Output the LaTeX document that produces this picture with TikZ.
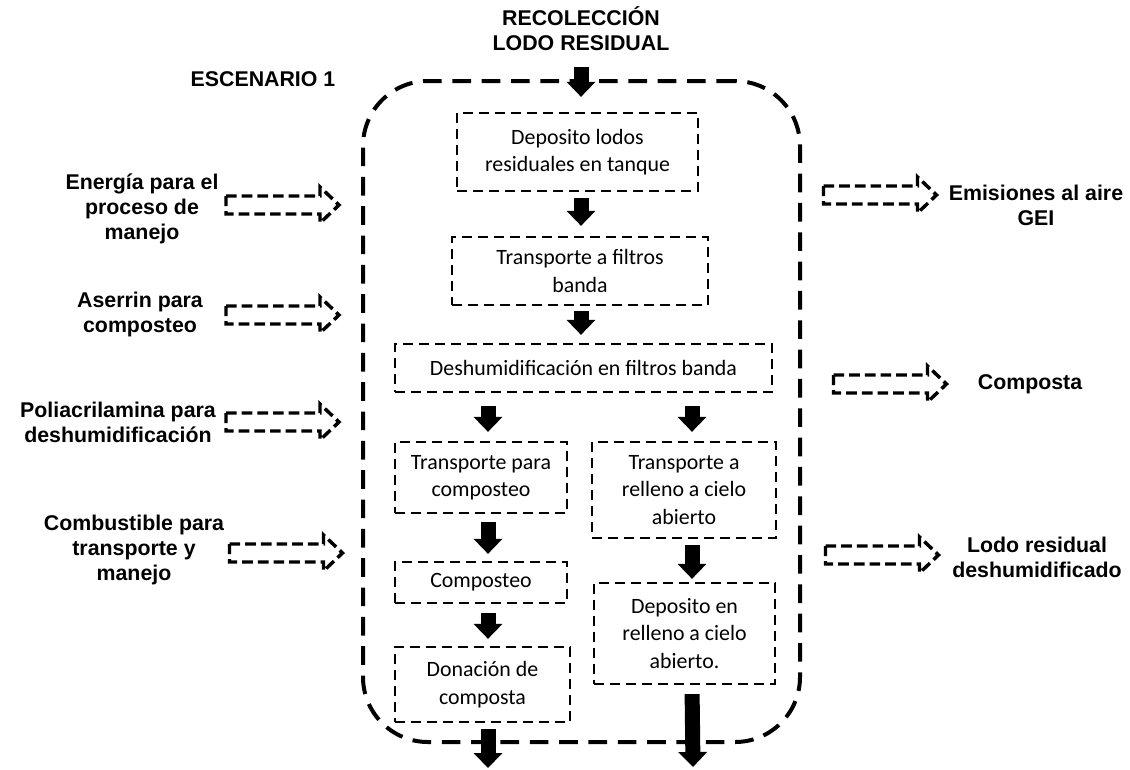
\documentclass[tikz,border=0pt]{standalone}
\usepackage{fontspec}
\setmainfont{Carlito}
\newfontfamily\labelfont{Liberation Sans}
\usetikzlibrary{arrows.meta}

\begin{document}
\begin{tikzpicture}[x=0.75pt,y=-0.75pt,
  stage/.style={draw, dash pattern=on 7.5pt off 4.5pt, line width=1.7pt,
    inner sep=0pt, align=center, font=\fontsize{16.4}{20.5}\selectfont},
  flow/.style={line width=11.25pt, -{Triangle[width=21pt,length=11.25pt]}},
  lbl/.style={font=\labelfont\bfseries\fontsize{16}{18.75}\selectfont, align=center},
  ioarrow/.pic={
    \draw[dash pattern=on 8pt off 3.75pt, line width=2.6pt, line join=miter]
      (-56.5,-9) -- (37.5,-9) -- (37.5,-18) -- (56.5,0) -- (37.5,18)
      -- (37.5,9) -- (-56.5,9) -- cycle;
    \coordinate (-tip) at (56.5,0);
  }
]
\useasboundingbox (0,0) rectangle (1130,769);

% scenario boundary
\node[draw, rounded corners=48.75pt, dash pattern=on 14pt off 8pt, line width=3pt,
  minimum width=327.75pt, minimum height=495.75pt] (frame) at (581.5,411.5) {};

% headings
\node[lbl] (title) at (581,29) {RECOLECCIÓN\\LODO RESIDUAL};
\node[lbl] (scen) at (263,79) {ESCENARIO 1};

% process stages
\node[stage, minimum width=180.75pt, minimum height=58.5pt] (b1) at (577.5,152)
  {Deposito lodos\\residuales en tanque};
\node[stage, minimum width=192pt, minimum height=51pt] (b2) at (580,271)
  {Transporte a filtros\\banda};
\node[stage, minimum width=282.75pt, minimum height=36pt] (b3) at (583.5,368)
  {Deshumidificación en filtros banda};
\node[stage, minimum width=129pt, minimum height=53.25pt] (b4) at (481,477.5)
  {Transporte para\\composteo};
\node[stage, minimum width=138pt, minimum height=72pt] (b5) at (684,490)
  {Transporte a\\relleno a cielo\\abierto};
\node[stage, minimum width=129pt, minimum height=30.75pt] (b6) at (481,582.5)
  {Composteo};
\node[stage, minimum width=131.25pt, minimum height=56.25pt] (b7) at (482.5,684.5)
  {Donación de\\composta};
\node[stage, minimum width=135.75pt, minimum height=75.75pt] (b8) at (684.5,633.5)
  {Deposito en\\relleno a cielo\\abierto.};

% flow columns and free ends
\coordinate (colM) at (581,0);
\coordinate (colL) at (488,0);
\coordinate (colR) at (692,0);
\coordinate (inTop) at (581,67);
\coordinate (outL) at (488,768);
\coordinate (outR) at (693,767);

% main flow arrows
\draw[flow, shorten >=11.25pt] (inTop) -- (b1.north -| colM);
\draw[flow, shorten <=4.5pt, shorten >=7.5pt] (b1.south -| colM) -- (b2.north -| colM);
\draw[flow, shorten <=4pt, shorten >=6pt] (b2.south -| colM) -- (b3.north -| colM);
\draw[flow, shorten <=9.75pt, shorten >=6.75pt] (b3.south -| colL) -- (b4.north -| colL);
\draw[flow, shorten <=9.75pt, shorten >=6.75pt] (b3.south -| colR) -- (b5.north -| colR);
\draw[flow, shorten <=6pt, shorten >=5.25pt] (b4.south -| colL) -- (b6.north -| colL);
\draw[flow, shorten <=6.75pt, shorten >=5.25pt] (b6.south -| colL) -- (b7.north -| colL);
\draw[flow, shorten <=4.5pt, shorten >=2.25pt] (b5.south -| colR) -- (b8.north -| colR);
\draw[flow, shorten <=4.5pt] (b7.south -| colL) -- (outL);
\draw[flow, shorten <=6.75pt] (b8.south -| colR) -- (outR);

% inputs
\node[lbl] (lEnergy) at (142,209) {Energía para el\\proceso de\\manejo};
\pic (aEnergy) at (282.5,205) {ioarrow};
\node[lbl] (lSaw) at (140,314) {Aserrin para\\composteo};
\pic (aSaw) at (282.5,315) {ioarrow};
\node[lbl] (lPoly) at (118,422) {Poliacrilamina para\\deshumidificación};
\pic (aPoly) at (282.5,422) {ioarrow};
\node[lbl] (lFuel) at (134,550) {Combustible para\\transporte y\\manejo};
\pic (aFuel) at (286,553) {ioarrow};

% outputs
\pic (aGas) at (880,195) {ioarrow};
\node[lbl] (lGas) at (1036,205) {Emisiones al aire\\GEI};
\pic (aCompost) at (890,384) {ioarrow};
\node[lbl] (lCompost) at (1030,384) {Composta};
\pic (aSludge) at (882,555) {ioarrow};
\node[lbl] (lSludge) at (1037,557) {Lodo residual\\deshumidificado};
\end{tikzpicture}
\end{document}
